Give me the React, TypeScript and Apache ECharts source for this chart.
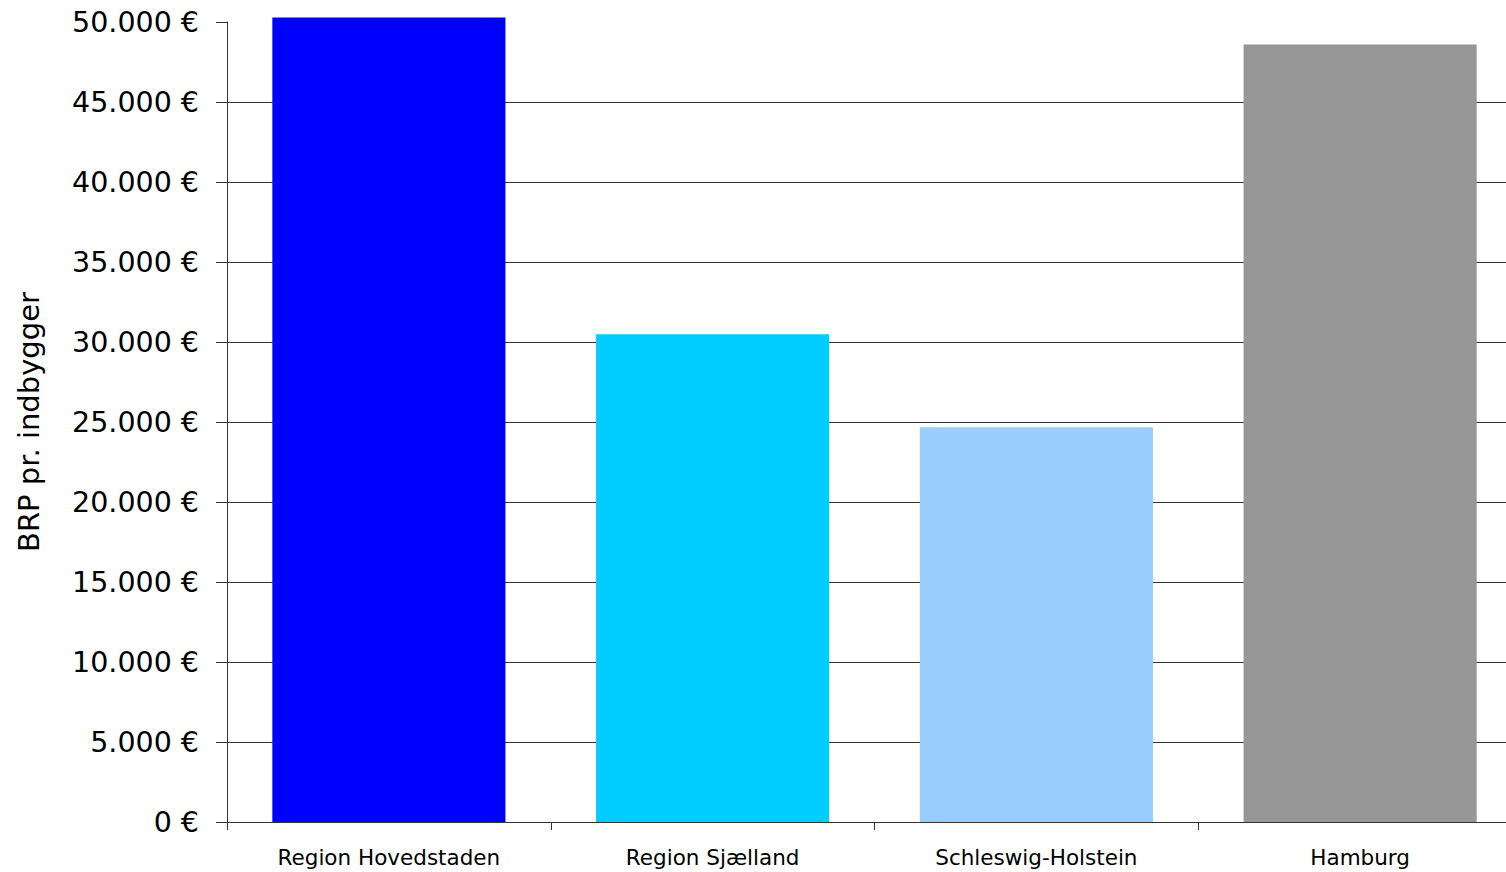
import React, { useEffect, useRef } from "react";
import * as echarts from "echarts";

const categories = ["Region Hovedstaden", "Region Sjælland", "Schleswig-Holstein", "Hamburg"];
const values = [50280, 30480, 24670, 48590];
const colors = ["#0000FF", "#00CCFF", "#99CCFF", "#969696"];
const yAxisName = "BRP pr. indbygger";

function fmt(v: number): string {
  const s = Math.round(v).toString();
  return s.replace(/\B(?=(\d{3})+(?!\d))/g, ".") + " €";
}

export default function App() {
  const ref = useRef<HTMLDivElement>(null);
  useEffect(() => {
    document.body.style.margin = "0";
    document.body.style.overflow = "hidden";
    const chart = echarts.init(ref.current!, undefined, { renderer: "svg" });
    chart.setOption({
      animation: false,
      backgroundColor: "#ffffff",
      grid: { left: 227, right: 0, top: 22, bottom: 50, containLabel: false },
      xAxis: {
        type: "category",
        data: categories,
        axisLine: { show: true, lineStyle: { color: "#333", width: 1 } },
        axisTick: { show: true, length: 8, lineStyle: { color: "#333" } },
        axisLabel: {
          color: "#000",
          fontFamily: "DejaVu Sans",
          fontSize: 21.5,
          margin: 24,
          interval: 0,
        },
      },
      yAxis: {
        type: "value",
        min: 0,
        max: 50000,
        interval: 5000,
        name: yAxisName,
        nameLocation: "middle",
        nameGap: 184,
        nameRotate: 90,
        nameTextStyle: { color: "#000", fontFamily: "DejaVu Sans", fontSize: 29 },
        axisLine: { show: true, lineStyle: { color: "#333", width: 1 } },
        axisTick: { show: true, length: 11, lineStyle: { color: "#333" } },
        axisLabel: {
          color: "#000",
          fontFamily: "DejaVu Sans",
          fontSize: 28.5,
          margin: 28,
          formatter: (v: number) => fmt(v),
        },
        splitLine: { show: true, showMaxLine: false, lineStyle: { color: "#333", width: 1 } },
      },
      series: [
        {
          type: "bar",
          clip: false,
          barCategoryGap: "28%",
          data: values.map((v, i) => ({ value: v, itemStyle: { color: colors[i] } })),
        },
      ],
    });
    return () => chart.dispose();
  }, []);
  return <div ref={ref} style={{ position: "absolute", left: 0, top: 0, width: 1522, height: 872 }} />;
}
